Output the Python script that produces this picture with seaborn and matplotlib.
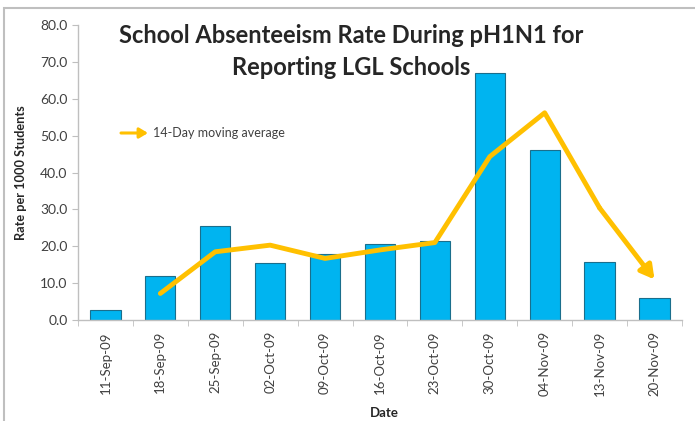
import matplotlib
matplotlib.use("Agg")
import matplotlib.pyplot as plt
import seaborn as sns
import numpy as np
import pandas as pd

dates = ['11-Sep-09', '18-Sep-09', '25-Sep-09', '02-Oct-09', '09-Oct-09', '16-Oct-09',
         '23-Oct-09', '30-Oct-09', '04-Nov-09', '13-Nov-09', '20-Nov-09']
rates = [2.7, 11.8, 25.5, 15.5, 18.0, 20.5, 21.5, 67.0, 46.0, 15.8, 6.0]
moving_avg = [np.nan, 7.2, 18.5, 20.3, 16.7, 19.0, 21.0, 44.3, 56.2, 30.4, 11.0]

df = pd.DataFrame({'Date': dates, 'Rate': rates, 'MA': moving_avg})

sns.set_style("white")
plt.rcParams['font.family'] = ['Lato', 'DejaVu Sans']

fig = plt.figure(figsize=(6.95, 4.21), dpi=100)
ax = fig.add_axes([0.1122, 0.2399, 0.869, 0.7007])

sns.barplot(data=df, x='Date', y='Rate', color='#00B4F0', width=0.55,
            edgecolor='#1A6E8C', linewidth=0.8, saturation=1, ax=ax)

# moving average line, last segment drawn as arrow
x_pos = np.arange(len(dates))
sns.lineplot(x=x_pos[:-1], y=df['MA'][:-1], color='#FFC000', linewidth=3.5, ax=ax)
ax.annotate('', xy=(x_pos[-1], moving_avg[-1]), xytext=(x_pos[-2], moving_avg[-2]),
            arrowprops=dict(arrowstyle='-|>,head_length=0.8,head_width=0.45',
                            color='#FFC000', lw=3.5, shrinkA=0, shrinkB=0))

ax.set_xlim(-0.5, len(dates) - 0.5)
ax.set_ylim(0, 80)
ax.set_yticks(np.arange(0, 81, 10))
ax.set_yticklabels([f'{v:.1f}' for v in np.arange(0, 81, 10)], fontsize=10, color='#404040')
ax.set_xticks(x_pos)
ax.set_xticklabels(dates, rotation=90, fontsize=9.5, color='#404040')
ax.tick_params(axis='x', length=0, pad=8)
ax.set_xticks(np.arange(-0.5, len(dates), 1), minor=True)
ax.tick_params(axis='x', which='minor', length=4, color='#BFBFBF', direction='out', bottom=True)
ax.tick_params(axis='y', length=4, color='#BFBFBF', direction='out', left=True)

for s in ['top', 'right']:
    ax.spines[s].set_visible(False)
for s in ['left', 'bottom']:
    ax.spines[s].set_color('#BFBFBF')
    ax.spines[s].set_linewidth(1)

ax.set_ylabel('Rate per 1000 Students', fontsize=9.2, fontweight='bold')
ax.yaxis.set_label_coords(-0.085, 0.5)
ax.set_xlabel('Date', fontsize=9.5, fontweight='bold')
ax.xaxis.set_label_coords(0.508, -0.295)

fig.text(0.506, 0.878, 'School Absenteeism Rate During pH1N1 for\nReporting LGL Schools',
         ha='center', va='center', fontsize=17, fontweight='bold', linespacing=1.45)

# legend
ax.annotate('', xy=(148 / 695, 1 - 133 / 421), xytext=(121 / 695, 1 - 133 / 421),
            xycoords='figure fraction', textcoords='figure fraction',
            arrowprops=dict(arrowstyle='-|>,head_length=0.5,head_width=0.3',
                            color='#FFC000', lw=2.2, shrinkA=0, shrinkB=0))
fig.text(153 / 695, 1 - 133 / 421, '14-Day moving average', fontsize=9,
         color='#404040', va='center', ha='left')

# outer frame
fig.patches.append(plt.Rectangle((4 / 695, -0.05), 1.2, 1 - 8 / 421 + 0.05,
                                 transform=fig.transFigure, fill=False,
                                 edgecolor='#BFBFBF', linewidth=1.5))

fig.savefig('out.png', dpi=100)
